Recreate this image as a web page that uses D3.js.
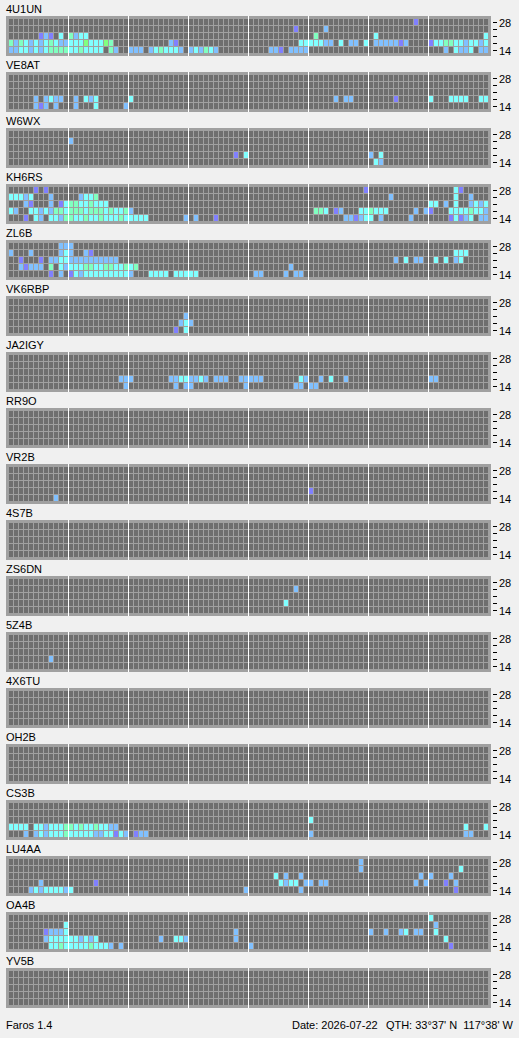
<!DOCTYPE html>
<html><head><meta charset="utf-8">
<script src="https://cdn.jsdelivr.net/npm/d3@7"></script>
<style>
body{margin:0;background:#f0f0f0;}
svg{display:block;}
text{font-family:"Liberation Sans",Arial,sans-serif;font-size:11px;fill:#000;}
</style></head><body>
<script>
// ---------- data ----------
const stations = ["4U1UN","VE8AT","W6WX","KH6RS","ZL6B","VK6RBP","JA2IGY","RR9O","VR2B","4S7B","ZS6DN","5Z4B","4X6TU","OH2B","CS3B","LU4AA","OA4B","YV5B"];
const bands = ["28","24","21","18","14"];          // rows, top to bottom
const bandTickLabels = ["28","","","","14"];
const slotCount = 96;                               // 15-minute slots over 24 h
const levelCodes = ["P","B","C","M","G"];          // signal level codes
// each station: one string per band (28,24,21,18,14); tokens "startSlot:codes", '.' = no spot
const s_4U1UN = ["81:P","57:P 63:B","6:PBP.C.MBCC 61:M 73:C 95:C",
  "0:MBMCBCBCMCBBCCCGCCCGM 32:BP 58:CCCCCBB.C.BB.C.BBBBBPB 84:PCCMMCCBCCBC",
  "0:BBCCBCBCMMMMCCMCCCC.MB 24:BBB.BCMCCCB.BCBMCB 52:BBP.BBBB 87:B.CBBC.BB"];
const s_VE8AT = ["","","","5:B.BCBB 13:B.CBC 24:C 65:B.BB 77:P 84:C 88:CCCC 94:CC","5:BPB.B 13:B 17:C 23:B"];
const s_W6WX = ["","12:B","","45:P.C 72:B.C","73:CB"];
const s_KH6RS = ["5:P.P 71:P 89:CP","0:CCCBC 8:B 14:BCCM 76:B 89:C..B",
  "3:BP...B.PCMMCCMCCC 84:CC.B.C..BCBC",
  "0:CB..CCBCBMMCMMMCMMMCMCCMB 61:MMC.P 66:B...CCMCCC.....B.BP...CCCCMCCB",
  "3:P.CB.CCBMMCCMCCMCCCMC 24:CCCC 35:B.B...P 67:BBPBCC.B.....B.......PCPBC.BB"];
const s_ZL6B = ["10:BBB","0:B...B.....BCB..BP 89:CCC","2:P...P.BBCCBBBBBBBBBB 77:B.C.BB..C.C.BC",
  "2:BPBBB.M.CBCCCMMCCMMCCMCM 56:B","8:P.B.PCBCCCCCCCCCB...CCCC.CCCCC 49:BB 55:B.BB"];
const s_VK6RBP = ["","","35:B","34:BCB","33:P.C"];
const s_JA2IGY = ["","","","22:BBB 32:BBCCBBCB.BBB..BBBBB 58:CB..B.C..B 84:BB","23:B 33:B.BB 47:B 57:BB.B 61:B"];
const s_RR9O = ["","","","",""];
const s_VR2B = ["","","","60:P","9:B"];
const s_4S7B = ["","","","",""];
const s_ZS6DN = ["","57:B","","55:C",""];
const s_5Z4B = ["","","","8:B",""];
const s_4X6TU = ["","","","",""];
const s_OH2B = ["","","","",""];
const s_CS3B = ["","","60:C","0:CCCC.CCBCCCMMCMCCMCCBB 91:C...C","3:B.BCBCCCMCCCCCBBCCPCB.PBB 60:B 91:BB"];
const s_LU4AA = ["70:B","70:B 90:C","53:C.B 58:B 82:B.B 88:B","6:B 17:P 54:CBCC.B 60:B.BB 81:B.B 87:P 89:B","4:BCBCCCCBC 47:B 58:B 89:P"];
const s_OA4B = ["84:C","11:C 85:B","7:PBBBC 45:B 72:B 75:B 78:BC.B 82:B 85:C","7:BCCCCCCBCBC 30:B 33:CCB 45:B 87:C","8:CCMCCCCCMCCCB 22:B 48:B 88:P"];
const s_YV5B = ["","","","",""];
const stationRows = [s_4U1UN,s_VE8AT,s_W6WX,s_KH6RS,s_ZL6B,s_VK6RBP,s_JA2IGY,s_RR9O,s_VR2B,s_4S7B,s_ZS6DN,s_5Z4B,s_4X6TU,s_OH2B,s_CS3B,s_LU4AA,s_OA4B,s_YV5B];
const footerLeft = "Faros 1.4";
const footerDate = "Date: 2026-07-22";
const footerQth = "QTH: 33\u00b037' N  117\u00b038' W";

// ---------- build spot table ----------
const spots = [];
stations.forEach((st, si) => {
  stationRows[si].forEach((rowStr, bi) => {
    rowStr.split(" ").filter(t => t).forEach(tok => {
      const [start, codes] = tok.split(":");
      [...codes].forEach((c, k) => {
        if (c !== ".") spots.push({station: st, band: bands[bi], slot: +start + k, level: c});
      });
    });
  });
});

// ---------- scales ----------
const W = 519, H = 1038;
const panelY = d3.scaleBand().domain(stations).range([16, 16 + 56 * stations.length]);
const x = d3.scaleLinear().domain([0, slotCount]).range([8, 488]);
const y = d3.scaleBand().domain(bands).range([18, 53]);
const color = d3.scaleOrdinal().domain(levelCodes).range(["#8080ff","#80c0ff","#80ffff","#80ffc0","#80ff80"]);

const svg = d3.select("body").append("svg").attr("width", W).attr("height", H);

const emptyCells = [];
bands.forEach(b => d3.range(slotCount).forEach(i => emptyCells.push({band: b, slot: i})));

const panels = svg.selectAll("g.panel").data(stations).join("g")
  .attr("class", "panel").attr("transform", d => `translate(0,${panelY(d) - 16})`);

panels.append("text").attr("x", 6).attr("y", 13).text(d => d);
panels.append("rect").attr("x", 6).attr("y", 16).attr("width", 485).attr("height", 40).attr("fill", "#a0a0a0");

panels.selectAll("rect.empty").data(emptyCells).join("rect").attr("class", "empty")
  .attr("x", d => x(d.slot) + 1).attr("y", d => y(d.band) + 1)
  .attr("width", d => x(d.slot + 1) - x(d.slot) - 1).attr("height", y.step() - 1)
  .attr("fill", "#6e6e6e");

panels.selectAll("rect.spot").data(st => spots.filter(s => s.station === st)).join("rect").attr("class", "spot")
  .attr("x", d => x(d.slot) + 1).attr("y", d => y(d.band) + 1)
  .attr("width", d => x(d.slot + 1) - x(d.slot) - 1).attr("height", y.step() - 1)
  .attr("fill", d => color(d.level));

panels.selectAll("rect.sep").data(d3.range(12, slotCount, 12)).join("rect").attr("class", "sep")
  .attr("x", d => x(d)).attr("y", 16).attr("width", 1).attr("height", 40).attr("fill", "#ffffff");

// right band axis
panels.each(function() {
  const g = d3.select(this).append("g").attr("transform", "translate(491,0)");
  const axis = d3.axisRight(y).tickSize(0).tickFormat((d, i) => bandTickLabels[i]);
  g.call(axis);
  g.select(".domain").remove();
  g.selectAll(".tick").each(function(d) {
    const t = d3.select(this);
    t.attr("transform", `translate(0,${y(d) + 4})`);
    t.select("line").remove();
    t.append("rect").attr("x", 2).attr("y", 0).attr("width", 4).attr("height", 1).attr("fill", "#000");
    t.select("text").attr("x", 8).attr("dy", null).attr("y", 4.5)
      .attr("fill", "#000").style("font-family", '"Liberation Sans",Arial,sans-serif').style("font-size", "11px");
  });
});

svg.append("text").attr("x", 6).attr("y", 1029).text(footerLeft);
svg.append("text").attr("x", 292).attr("y", 1029).text(footerDate);
svg.append("text").attr("x", 513).attr("y", 1029).attr("text-anchor", "end").style("white-space", "pre").text(footerQth);
</script>
</body></html>
